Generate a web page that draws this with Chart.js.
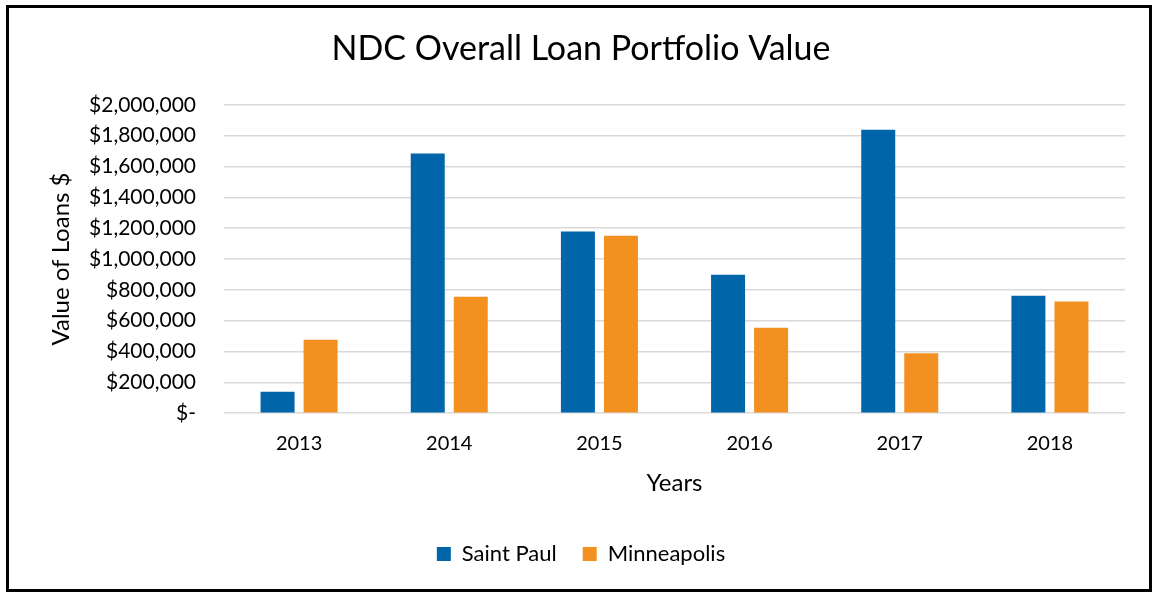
<!DOCTYPE html>
<html>
<head>
<meta charset="utf-8">
<script src="https://cdn.jsdelivr.net/npm/chart.js@4"></script>
<style>
  html, body { margin: 0; padding: 0; background: #fff; }
  #frame {
    position: absolute; left: 6px; top: 5px;
    width: 1140px; height: 581px;
    border: 3px solid #000;
  }
</style>
</head>
<body>
<div id="frame"><canvas id="loanChart" width="1140" height="581"></canvas></div>
<script>
// values
const years = ['2013', '2014', '2015', '2016', '2017', '2018'];
const saintPaul   = [139000, 1684000, 1179000, 898000, 1838000, 762000];
const minneapolis = [476000, 755000, 1151000, 554000, 388000, 725000];
const yTicks = [0, 200000, 400000, 600000, 800000, 1000000, 1200000, 1400000, 1600000, 1800000, 2000000];

const fontFamily = 'Lato, "Open Sans", sans-serif';

function money(v) {
    if (v === 0) return '$-';
    return '$' + v.toLocaleString('en-US');
}

document.addEventListener('DOMContentLoaded', () => {
    const ctx = document.getElementById('loanChart').getContext('2d');

    new Chart(ctx, {
        type: 'bar',
        data: {
            labels: years,
            datasets: [
                { label: 'Saint Paul',  data: saintPaul,   backgroundColor: '#0065A9' },
                { label: 'Minneapolis', data: minneapolis, backgroundColor: '#F29020' }
            ]
        },
        options: {
            responsive: false,
            animation: false,
            categoryPercentage: 0.573,
            barPercentage: 0.79,
            layout: { padding: { top: 0, right: 24, bottom: 14, left: 28 } },
            plugins: {
                title: {
                    display: true,
                    text: 'NDC Overall Loan Portfolio Value',
                    color: '#000',
                    font: { family: fontFamily, size: 34, weight: 'normal' },
                    padding: { top: 21, bottom: 35 }
                },
                legend: {
                    position: 'bottom',
                    labels: {
                        color: '#000',
                        font: { family: fontFamily, size: 22 },
                        boxWidth: 14,
                        boxHeight: 14,
                        padding: 26
                    }
                },
                tooltip: { enabled: false }
            },
            scales: {
                x: {
                    grid: { display: false },
                    border: { display: false },
                    ticks: { color: '#000', font: { family: fontFamily, size: 20 }, padding: 10 },
                    title: {
                        display: true,
                        text: 'Years',
                        color: '#000',
                        font: { family: fontFamily, size: 24 },
                        padding: { top: 4, bottom: 19 }
                    }
                },
                y: {
                    min: 0,
                    max: 2000000,
                    afterFit: (scale) => { scale.width = 187; },
                    afterBuildTicks: (scale) => { scale.ticks = yTicks.map(v => ({ value: v })); },
                    grid: { color: '#D9D9D9', lineWidth: 1.5, drawTicks: false },
                    border: { display: false },
                    ticks: {
                        color: '#000',
                        font: { family: fontFamily, size: 21 },
                        padding: 28,
                        callback: (v) => money(v)
                    },
                    title: {
                        display: true,
                        text: 'Value of Loans $',
                        color: '#000',
                        font: { family: fontFamily, size: 24 },
                        padding: { top: 10, bottom: 0 }
                    }
                }
            }
        }
    });
});
</script>
</body>
</html>
